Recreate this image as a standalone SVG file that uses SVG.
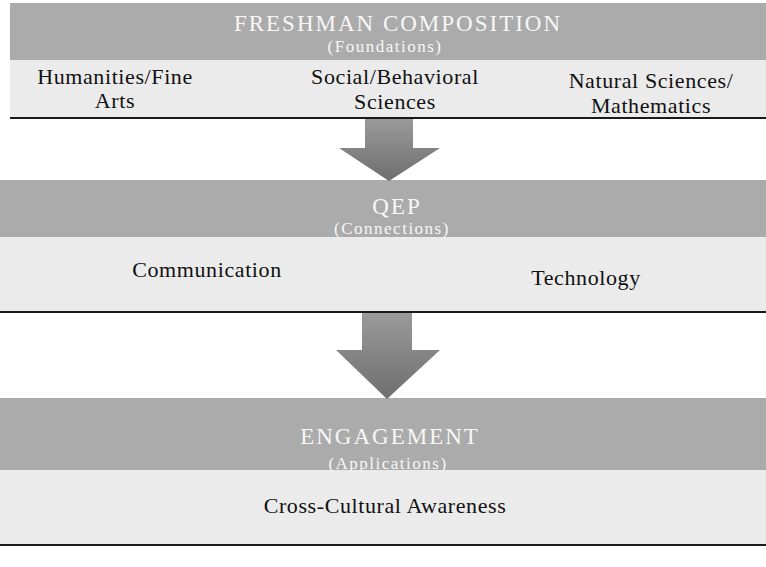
<svg xmlns="http://www.w3.org/2000/svg" width="766" height="567" viewBox="0 0 766 567">
  <style>
    .band { fill: #ababab; }
    .panel { fill: #ebebeb; }
    .rule { stroke: #1a1a1a; stroke-width: 2.2; fill: none; }
    .head { font-family: "Liberation Serif", "DejaVu Serif", serif; fill: #f7f7f7; text-anchor: middle; font-size: 23px; letter-spacing: 2px; }
    .sub { font-family: "Liberation Serif", "DejaVu Serif", serif; fill: #f7f7f7; text-anchor: middle; font-size: 17px; letter-spacing: 1.5px; }
    .item { font-family: "Liberation Serif", "DejaVu Serif", serif; fill: #111; text-anchor: middle; font-size: 22px; letter-spacing: 0.6px; }
    .arrow { fill: url(#arrowShade); }
  </style>
  <defs>
    <linearGradient id="arrowShade" x1="0" y1="0" x2="0" y2="1">
      <stop offset="0" stop-color="#9a9a9a"/>
      <stop offset="1" stop-color="#6e6e6e"/>
    </linearGradient>
  </defs>

  <rect width="766" height="567" fill="#ffffff"/>

  <!-- Tier 1: general education foundations -->
  <g id="tier-foundations">
    <rect class="band" x="10" y="3" width="756" height="57"/>
    <rect class="panel" x="10" y="60" width="756" height="57"/>
    <text class="head" x="398" y="31">FRESHMAN COMPOSITION</text>
    <text class="sub" x="385" y="52">(Foundations)</text>
    <text class="item" x="115" y="84">Humanities/Fine</text>
    <text class="item" x="115" y="108">Arts</text>
    <text class="item" x="395" y="84">Social/Behavioral</text>
    <text class="item" x="395" y="109">Sciences</text>
    <text class="item" x="651" y="88">Natural Sciences/</text>
    <text class="item" x="651" y="113">Mathematics</text>
    <line class="rule" x1="10" y1="118" x2="766" y2="118"/>
  </g>

  <!-- Tier 2: QEP -->
  <g id="tier-qep">
    <rect class="band" x="0" y="180" width="766" height="57"/>
    <rect class="panel" x="0" y="237" width="766" height="74"/>
    <text class="head" x="397" y="214">QEP</text>
    <text class="sub" x="392" y="234">(Connections)</text>
    <text class="item" x="207" y="277">Communication</text>
    <text class="item" x="586" y="285">Technology</text>
    <line class="rule" x1="0" y1="312" x2="766" y2="312"/>
  </g>

  <!-- Tier 3: engagement -->
  <g id="tier-engagement">
    <rect class="band" x="0" y="398" width="766" height="72"/>
    <rect class="panel" x="0" y="470" width="766" height="74"/>
    <text class="head" x="390" y="444">ENGAGEMENT</text>
    <text class="sub" x="388" y="469">(Applications)</text>
    <text class="item" x="385" y="513">Cross-Cultural Awareness</text>
    <line class="rule" x1="0" y1="545" x2="766" y2="545"/>
  </g>

  <!-- Downward flow arrows between tiers -->
  <g id="connectors">
    <path class="arrow" d="M365 119 H413 V148 H440 L389 181 L339 148 H365 Z"/>
    <path class="arrow" d="M362 313 H412 V350 H440 L387 399 L336 350 H362 Z"/>
  </g>
</svg>
